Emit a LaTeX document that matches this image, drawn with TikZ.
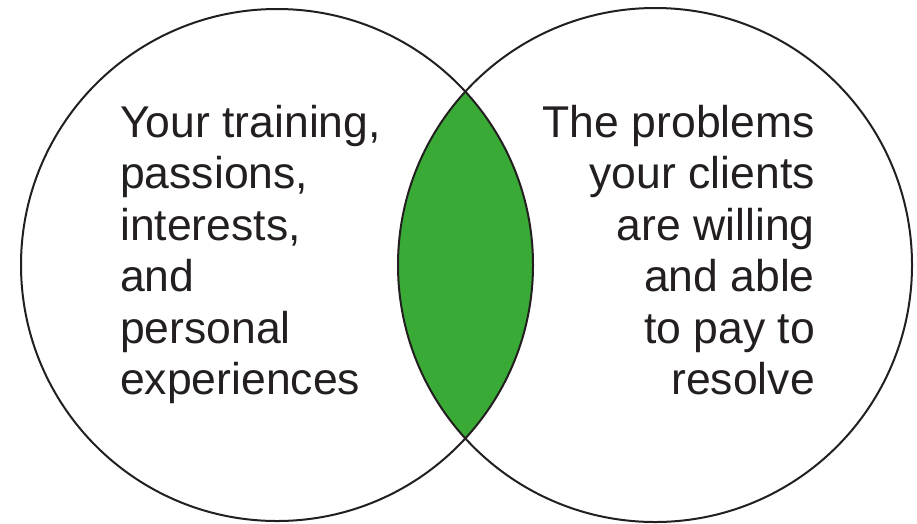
\documentclass[tikz,border=0pt]{standalone}
\usepackage{fontspec}
\setmainfont{Liberation Sans}
\definecolor{lensgreen}{RGB}{57,170,53}
\definecolor{rimgray}{RGB}{35,31,32}
\tikzset{
	venn/.style={circle,draw=rimgray,line width=2pt,minimum size=#1,inner sep=0pt},
	blurb/.style={inner sep=0pt,text=rimgray,font=\fontsize{44.5}{51.5}\selectfont}
}
\newcommand{\lens}[4]
{\begin{scope}
	\clip (#1) circle [radius=#2];
	\fill [lensgreen] (#3) circle [radius=#4];
	\end{scope}
}
\begin{document}
\begin{tikzpicture}[x=1pt,y=-1pt]
\useasboundingbox (0,0) rectangle (917,523);

\coordinate (lc) at (277,265);
\coordinate (rc) at (655,265);
\lens{lc}{256pt}{rc}{257pt};%green overlap

\node[venn=512pt] (you) at (lc) {};
\node[venn=514pt] (clients) at (rc) {};

\node[blurb,align=left,anchor=north west] (skills) at (120,105)
	{Your training,\\passions,\\interests,\\and\\personal\\experiences};
\node[blurb,align=right,anchor=north east] (problems) at (815,105)
	{The problems\\your clients\\are willing\\and able\\to pay to\\resolve};
\end{tikzpicture}
\end{document}
